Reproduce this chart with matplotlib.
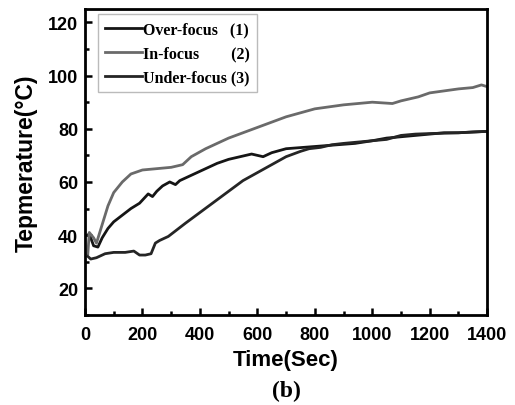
import numpy as np
import matplotlib.pyplot as plt
from matplotlib.ticker import MultipleLocator

# Over-focus (1)
t_over = [10, 20, 30, 45, 60, 80, 100, 130, 160, 190, 220, 235, 250, 270, 295,
          315, 330, 350, 380, 420, 460, 500, 540, 580, 600, 620, 650, 700, 760,
          820, 880, 940, 1000, 1050, 1100, 1150, 1200, 1250, 1300, 1350, 1395]
T_over = [40, 39, 36, 35.5, 39, 42.5, 45, 47.5, 50, 52, 55.5, 54.5, 56.5, 58.5,
          60, 59, 60.5, 61.5, 63, 65, 67, 68.5, 69.5, 70.5, 70, 69.5, 71, 72.5,
          73, 73.5, 74, 74.5, 75.5, 76.5, 77, 77.5, 78, 78.5, 78.5, 78.8, 79]

# In-focus (2)
t_in = [10, 15, 30, 40, 60, 80, 100, 130, 160, 200, 250, 300, 340, 370, 420,
        500, 600, 700, 800, 900, 1000, 1070, 1100, 1160, 1200, 1300, 1350,
        1380, 1395]
T_in = [33, 41, 39, 37, 44, 51, 56, 60, 63, 64.5, 65, 65.5, 66.5, 69.5, 72.5,
        76.5, 80.5, 84.5, 87.5, 89, 90, 89.5, 90.5, 92, 93.5, 95, 95.5, 96.5, 96]

# Under-focus (3)
t_under = [10, 20, 40, 70, 100, 140, 170, 190, 210, 230, 245, 260, 290, 320,
           350, 400, 450, 500, 550, 600, 650, 700, 750, 780, 820, 860, 900,
           950, 1000, 1050, 1100, 1150, 1200, 1300, 1395]
T_under = [32, 31, 31.5, 33, 33.5, 33.5, 34, 32.5, 32.5, 33, 37, 38, 39.5, 42,
           44.5, 48.5, 52.5, 56.5, 60.5, 63.5, 66.5, 69.5, 71.5, 72.5, 73, 74,
           74.5, 75, 75.5, 76, 77.5, 78, 78.2, 78.5, 79]

labels = ['Over-focus   (1)', 'In-focus        (2)', 'Under-focus (3)']

fig = plt.figure(figsize=(5.15, 4.06), dpi=100)
ax = fig.add_axes([0.165, 0.222, 0.781, 0.753])

ax.plot(t_over, T_over, color='#151515', lw=2, label=labels[0])
ax.plot(t_in, T_in, color='#6a6a6a', lw=2, label=labels[1])
ax.plot(t_under, T_under, color='#252525', lw=2, label=labels[2])

ax.set_xlim(0, 1400)
ax.set_ylim(10, 125)
ax.xaxis.set_major_locator(MultipleLocator(200))
ax.xaxis.set_minor_locator(MultipleLocator(100))
ax.yaxis.set_minor_locator(MultipleLocator(10))
ax.set_yticks([20, 40, 60, 80, 100, 120])

ax.tick_params(which='both', direction='in', width=1.8)
ax.tick_params(which='major', length=5, labelsize=13)
ax.tick_params(which='minor', length=3)
ax.tick_params(axis='x', pad=8)
ax.tick_params(axis='y', pad=5)
for lab in ax.get_xticklabels() + ax.get_yticklabels():
    lab.set_fontweight('bold')
    lab.set_family('Liberation Sans')
for s in ax.spines.values():
    s.set_linewidth(2)

ax.set_xlabel('Time(Sec)', fontsize=16, fontweight='bold', family='Liberation Sans', labelpad=4)
ax.set_ylabel('Tepmerature(°C)', fontsize=16.5, fontweight='bold', family='Liberation Sans', labelpad=7)

leg = ax.legend(loc='upper left', bbox_to_anchor=(0.032, 0.984), borderaxespad=0,
                prop={'family': 'Liberation Serif', 'weight': 'bold', 'size': 11.5},
                handlelength=2.3, handletextpad=0.1, labelspacing=0.5,
                fancybox=False, edgecolor='#aaaaaa', borderpad=0.45)
leg.get_frame().set_linewidth(1)

fig.text(0.557, 0.037, '(b)', fontsize=17, fontweight='bold', family='Liberation Serif',
         ha='center', va='center')

fig.savefig('out.png', dpi=100)
